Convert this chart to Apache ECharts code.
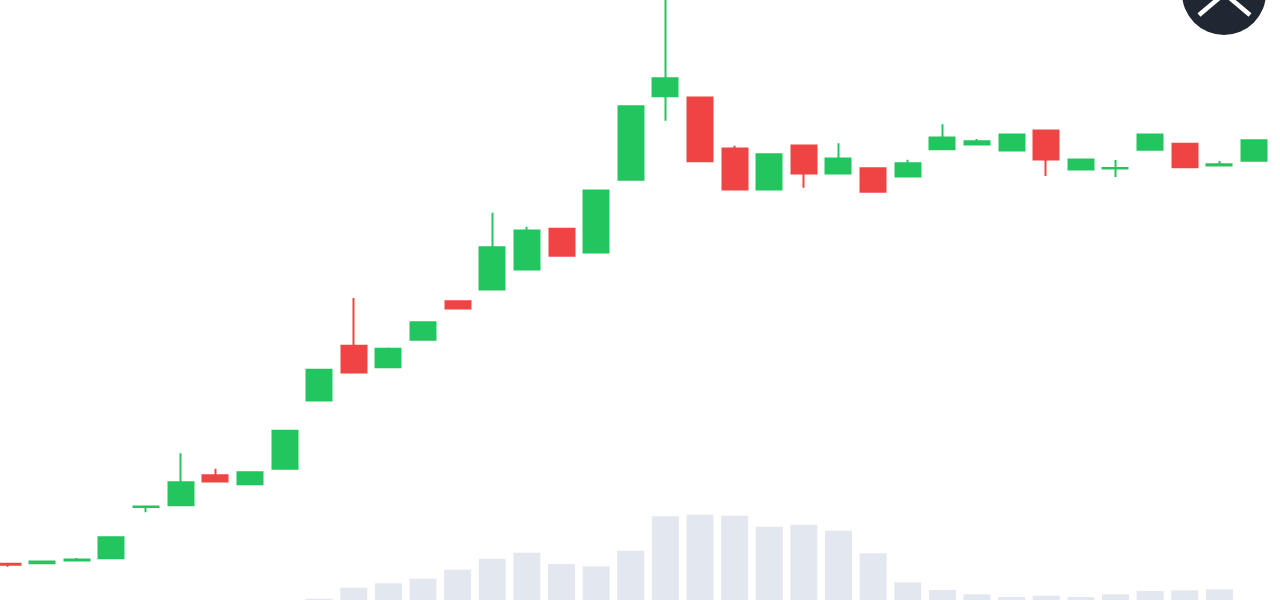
<!DOCTYPE html>
<html>
<head>
<meta charset="utf-8">
<style>html,body{margin:0;padding:0;background:#fff;overflow:hidden}#c{width:1280px;height:600px}</style>
<script src="https://cdn.jsdelivr.net/npm/echarts@6/dist/echarts.min.js"></script>
</head>
<body>
<div id="c"></div>
<script>
const categories = Array.from({length:37},(_,i)=>'C'+(i+1));
// Values on a 0-600 scale
const opens  = [36.3,36.7,39.5,41.8,93,94.8,124.8,115.8,131.2,199.5,254.2,232.8,260.2,298.8,310.5,330.5,371.2,347.5,420.2,503.8,502.5,451.5,410.5,454.5,426.5,431.8,423.5,450.8,455.5,449.5,469.5,430.5,431.5,450.2,456.2,434.5,439.2];
const closes = [35.2,38.5,40.5,62.8,93.6,117.8,118.5,127.8,169.2,230.2,227.5,251.2,277.8,291.5,352.8,369.5,344.2,409.5,493.8,521.8,438.8,410.5,445.8,426.5,441.5,408.2,436.8,462.5,458.8,465.5,440.5,440.5,431.9,465.5,432.8,435.8,459.8];
const lows   = [33.3,36.3,39,41.3,87.7,94.3,118,115.3,130.7,199,227,232.3,259.7,291,310,330,343.7,347,419.7,479.3,438.3,410,410,412.3,426,407.7,423,450.3,455,449,424,430,423,449.7,432.3,434,438.7];
const highs  = [37.3,39,42,63.3,94,146.7,131.3,128.3,169.7,230.7,302,252.5,278.3,299.3,387.3,373.3,371.7,410,494.3,600,503,454.3,446.3,455,456.7,432.3,440.3,475.7,461,466,470,441,440,466,456.7,439,460.3];
const volumes = [null,null,null,null,null,null,null,null,null,1.3,12.3,16.7,21.3,30.3,41.3,47.3,36,33.7,49.3,83.7,85.3,84.3,73.3,75.3,69.3,46.7,17.7,10,5.7,3,4.3,3,5.7,9,9.7,10.7,null];

const chart = echarts.init(document.getElementById('c'), null, {renderer:'canvas'});
chart.setOption({
  animation:false,
  backgroundColor:'#ffffff',
  grid:{left:-9.8,right:8.7,top:0,bottom:0,outerBoundsMode:'none',containLabel:false},
  xAxis:{type:'category',data:categories,show:false,boundaryGap:true},
  yAxis:[
    {type:'value',min:0,max:600,show:false,splitLine:{show:false}},
    {type:'value',min:0,max:600,show:false,splitLine:{show:false}}
  ],
  series:[
    {type:'bar',yAxisIndex:1,data:volumes,barWidth:27,itemStyle:{color:'#E3E7EF'},silent:true},
    {type:'candlestick',yAxisIndex:0,barWidth:25.5,
     data:categories.map((_,i)=>[opens[i],closes[i],lows[i],highs[i]]),
     itemStyle:{color:'#22C55E',color0:'#EF4444',borderColor:'#22C55E',borderColor0:'#EF4444',borderWidth:2}}
  ],
  graphic:[
    {type:'circle',shape:{cx:1224,cy:-7,r:42},style:{fill:'#1F2733'},silent:true},
    {type:'polyline',shape:{points:[[1199,15],[1224.5,-6.5],[1250,15]]},style:{stroke:'#ffffff',lineWidth:4.5,fill:null},silent:true}
  ]
});
</script>
</body>
</html>
